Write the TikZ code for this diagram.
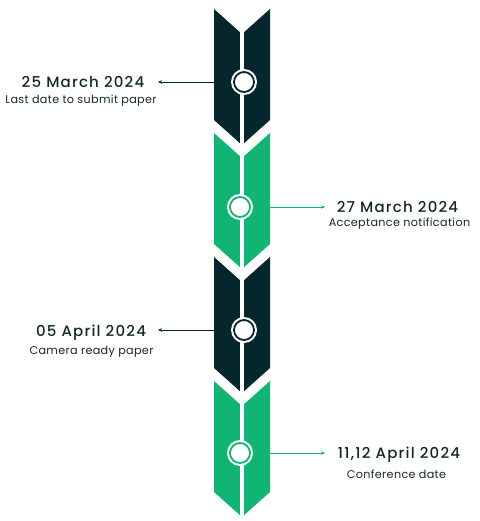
\documentclass[tikz,border=0pt]{standalone}
\usepackage{fontspec}
\setmainfont{Poppins}
\IfFontExistsTF{Poppins Medium}
  {\newfontfamily\titlefont{Poppins Medium}[LetterSpace=8]}
  {\newfontfamily\titlefont{Poppins}[LetterSpace=8,FakeBold=1]}
\newfontfamily\subfont{Poppins}[LetterSpace=3]
\usetikzlibrary{arrows.meta}
\definecolor{darkc}{RGB}{4,38,44}
\definecolor{greenc}{RGB}{17,180,114}
\definecolor{textc}{RGB}{20,40,44}
\begin{document}
\begin{tikzpicture}[x=1pt,y=-1pt,
  seg/.style={fill=#1,draw=none},
  ttl/.style={font=\titlefont\fontsize{15}{18}\selectfont,text=textc,inner sep=0pt,text height=10.5pt,text depth=0pt},
  sub/.style={font=\subfont\fontsize{11.2}{13}\selectfont,text=textc,inner sep=0pt,text height=7.8pt,text depth=0pt},
  conn/.style={draw=#1,line width=0.8pt,-{Stealth[length=4pt,width=3.5pt]}},
  dot/.style={circle,fill=white,draw=#1,line width=1.8pt,minimum size=20pt,inner sep=0pt},
  halo/.style={circle,fill=white,minimum size=26pt,inner sep=0pt}]
\useasboundingbox (0,0) rectangle (479,521);
% texts
\node[ttl] (t1) at (83,82) {25 March 2024};
\node[sub] (s1) at (81,100) {Last date to submit paper};
\node[ttl] (t2) at (397.5,207) {27 March 2024};
\node[sub] (s2) at (399.5,223) {Acceptance notification};
\node[ttl] (t3) at (91,331) {05 April 2024};
\node[sub] (s3) at (91.5,351) {Camera ready paper};
\node[ttl] (t4) at (399,453) {11,12 April 2024};
\node[sub] (s4) at (396.5,475) {Conference date};
% circle centres
\coordinate (c1) at (244,82);
\coordinate (c2) at (240,207);
\coordinate (c3) at (244,330);
\coordinate (c4) at (240,453);
\coordinate (a1) at (158,82);
\coordinate (a2) at (325,207);
\coordinate (a3) at (158,330);
\coordinate (a4) at (325,453);
% connectors
\draw[conn=darkc] (c1) -- (a1);
\draw[conn=greenc] (c2) -- (a2);
\draw[conn=darkc] (c3) -- (a3);
\draw[conn=greenc] (c4) -- (a4);
% chevron segments
\foreach \yt/\col in {9/darkc,133/greenc,257/darkc,381/greenc}{
  \fill[seg=\col] (214,\yt) -- (242,\yt+25) -- (270,\yt) -- (270,\yt+111)
     -- (242,\yt+136) -- (214,\yt+111) -- cycle;
}
% white spine
\draw[white,line width=4pt] (242,0) -- (242,521);
% circles
\node[halo] (h1) at (c1) {};
\node[dot=darkc] (d1) at (c1) {};
\node[halo] (h2) at (c2) {};
\node[dot=greenc] (d2) at (c2) {};
\node[halo] (h3) at (c3) {};
\node[dot=darkc] (d3) at (c3) {};
\node[halo] (h4) at (c4) {};
\node[dot=greenc] (d4) at (c4) {};
\end{tikzpicture}
\end{document}
